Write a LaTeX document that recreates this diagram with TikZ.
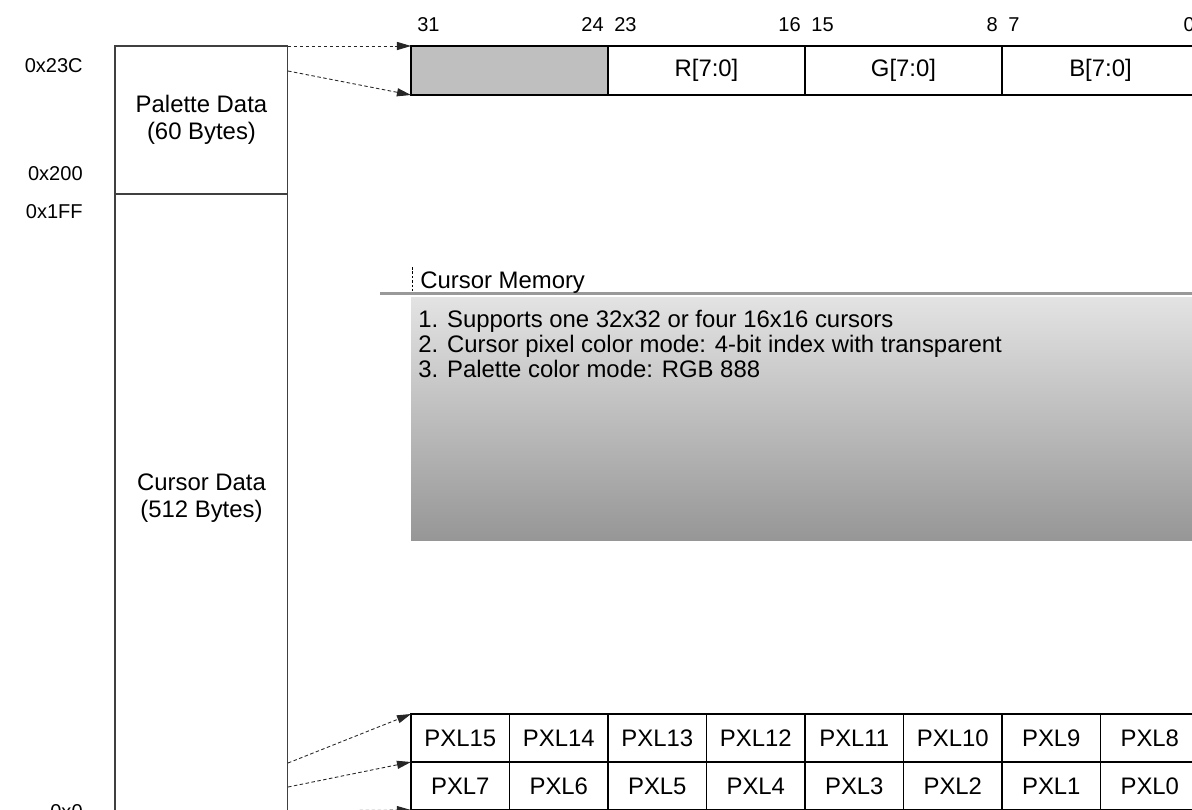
\documentclass[tikz,border=0pt]{standalone}
\usepackage{fontspec}
\setmainfont{Liberation Sans}
\usepackage{tikz}
\usetikzlibrary{arrows.meta,positioning}
\usepackage{xcolor}

\newcommand{\txtsz}{\fontsize{13.6pt}{15.3pt}\selectfont}
\newcommand{\numsz}{\fontsize{11.4pt}{13pt}\selectfont}

\tikzset{
  memblk/.style={draw=black!75, line width=0.6pt, inner sep=0pt, outer sep=0pt,
    minimum width=3.46cm, anchor=north west, align=center, font=\txtsz},
  field/.style={draw=black, line width=0.6pt, inner sep=0pt, outer sep=0pt,
    minimum width=3.94cm, minimum height=0.98cm, anchor=north west, font=\txtsz},
  pxcell/.style={draw=black, line width=0.6pt, inner sep=0pt, outer sep=0pt,
    minimum width=1.972cm, minimum height=0.96cm, anchor=north west, font=\txtsz},
  addr/.style={anchor=east, inner sep=0pt, font=\numsz},
  bitno/.style={inner sep=0pt, font=\numsz},
  ptr/.style={-{Triangle[length=8pt,width=4.6pt]}, dash pattern=on 2pt off 1.4pt,
    black!85, line width=0.5pt}
}

\begin{document}
\begin{tikzpicture}[x=0.02cm, y=-0.02cm]

\useasboundingbox (0,0) rectangle (1192,809);
\clip (0,0) rectangle (1192,809);

% Mapa de memoria
\node[memblk, minimum height=2.96cm] (pal) at (115,46) {Palette Data\\(60 Bytes)};
\node[memblk, minimum height=12.72cm] (curs) at (115,194) {};
\node[align=center, font=\txtsz] (curstxt) at (201.5,498) {Cursor Data\\(512 Bytes)};

% Adreces
\node[addr] (a23c) at (83,66) {0x23C};
\node[addr] (a200) at (83,174) {0x200};
\node[addr] (a1ff) at (83,212) {0x1FF};
\node[addr] (a0) at (83,812) {0x0};

% Registre de paleta
\node[field, fill=black!25] (reg0) at (411,46) {};
\node[field] (reg1) at (608,46) {R[7:0]};
\node[field] (reg2) at (805,46) {G[7:0]};
\node[field] (reg3) at (1002,46) {B[7:0]};

\foreach \hi/\lo [count=\k from 0] in {31/24,23/16,15/8,7/0}{
  \node[bitno, anchor=west] (bh\k) at ({411+197*\k+6},25) {\hi};
  \node[bitno, anchor=east] (bl\k) at ({411+197*(\k+1)-4},25) {\lo};
}

% Memoria del cursor
\draw[black!40, line width=1.7pt] (380,293) -- (1199,293);
\shade[top color=black!11, bottom color=black!41] (411,297) rectangle (1199,540);
\draw[dash pattern=on 1.5pt off 1pt, line width=0.5pt] (412,267) -- (412,291);
\node[anchor=base west, inner sep=0pt, font=\txtsz] (cmem) at (420,288) {Cursor Memory};

\foreach \t [count=\k from 0] in {%
  1. Supports one 32x32 or four 16x16 cursors,
  2. Cursor pixel color mode: 4-bit index with transparent,
  3. Palette color mode: RGB 888}{
  \node[anchor=base west, inner sep=0pt, font=\txtsz] (ln\k) at (418,{327+25*\k}) {\t};
}

% Pixels
\foreach \k in {0,...,7}{
  \pgfmathtruncatemacro{\hi}{15-\k}
  \pgfmathtruncatemacro{\lo}{7-\k}
  \node[pxcell] (p\hi) at ({411+98.5*\k},714) {PXL\hi};
  \node[pxcell] (p\lo) at ({411+98.5*\k},762) {PXL\lo};
}

% Fletxes
\coordinate (pa) at (pal.north east);
\coordinate (pb) at (288,71);
\coordinate (ca) at (288,763);
\coordinate (cb) at (288,787);
\coordinate (cc) at (288,811);

\draw[ptr] (pa) -- (reg0.north west);
\draw[ptr] (pb) -- (reg0.south west);
\draw[ptr] (ca) -- (p15.north west);
\draw[ptr] (cb) -- (p7.north west);
\draw[ptr] (cc) -- (p7.south west);

\end{tikzpicture}
\end{document}
